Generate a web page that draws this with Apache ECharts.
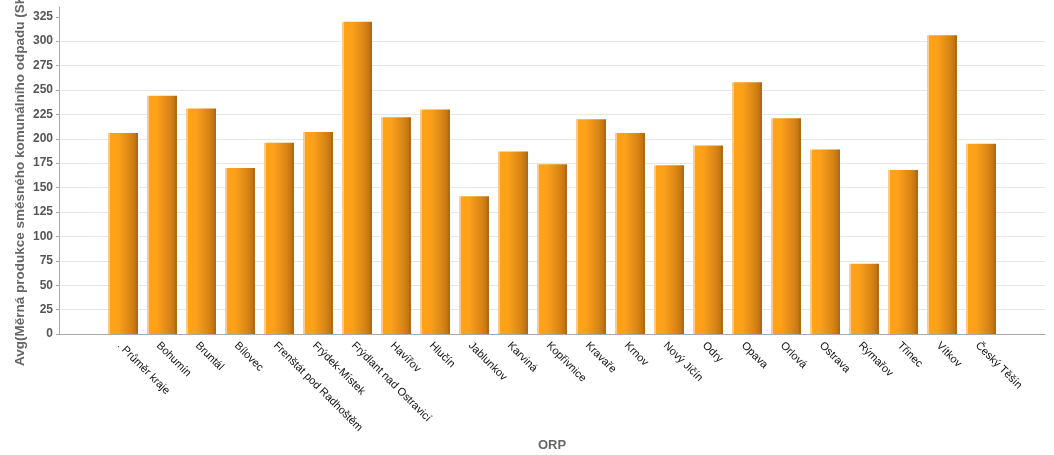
<!DOCTYPE html>
<html>
<head>
<meta charset="utf-8">
<script src="https://cdn.jsdelivr.net/npm/echarts@6/dist/echarts.min.js"></script>
<style>html,body{margin:0;padding:0;background:#fff}#c{width:1054px;height:455px}</style>
</head>
<body>
<div id="c"></div>
<script>
const categories = ['. Průměr kraje','Bohumín','Bruntál','Bílovec','Frenštát pod Radhoštěm','Frýdek-Místek','Frýdlant nad Ostravicí','Havířov','Hlučín','Jablunkov','Karviná','Kopřivnice','Kravaře','Krnov','Nový Jičín','Odry','Opava','Orlová','Ostrava','Rýmařov','Třinec','Vítkov','Český Těšín'];
const values = [206, 244, 231, 170, 196, 207, 320, 222, 230, 141, 187, 174, 220, 206, 173, 193, 258, 221, 189, 72, 168, 306, 195];
const yTicks = [0,25,50,75,100,125,150,175,200,225,250,275,300,325];
const yName = 'Avg(Měrná produkce směsného komunálního odpadu (SKO))';
const xName = 'ORP';

const chart = echarts.init(document.getElementById('c'), null, {renderer: 'canvas'});
const barGradient = new echarts.graphic.LinearGradient(0, 0, 1, 0, [
  {offset: 0, color: '#fcca90'},
  {offset: 0.07, color: '#fcca90'},
  {offset: 0.08, color: '#ffa316'},
  {offset: 0.35, color: '#fba01a'},
  {offset: 0.75, color: '#d88516'},
  {offset: 0.92, color: '#c27412'},
  {offset: 0.93, color: '#b06a10'},
  {offset: 1, color: '#b06a10'}
]);
const font = 'Liberation Sans, Arial, sans-serif';
const option = {
  animation: false,
  textStyle: {fontFamily: font},
  grid: [
    {left: 59, right: 9, top: 7, bottom: 121, containLabel: false, outerBoundsMode: 'none'},
    {left: 103.5, right: 53.5, top: 7, bottom: 121, containLabel: false, outerBoundsMode: 'none'}
  ],
  xAxis: [
    {gridIndex: 0, type: 'value', min: 0, max: 1, position: 'bottom',
      axisLine: {show: true, lineStyle: {color: '#aaaaaa', width: 1}},
      axisTick: {show: false}, axisLabel: {show: false}, splitLine: {show: false}},
    {gridIndex: 1, type: 'category', data: categories, position: 'bottom',
      axisLine: {show: false}, axisTick: {show: false}, splitLine: {show: false},
      axisLabel: {rotate: -45, interval: 0, margin: 6, verticalAlign: 'top', color: '#111', fontSize: 11, fontFamily: font},
      name: xName, nameLocation: 'middle', nameGap: 105, nameMoveOverlap: false,
      nameTextStyle: {color: '#666', fontSize: 13, fontWeight: 'bold', fontFamily: font}},
  ],
  yAxis: [
    {gridIndex: 0, type: 'value', min: 0, max: 335, interval: 25, position: 'left',
      axisLine: {show: true, lineStyle: {color: '#aaaaaa', width: 1}},
      axisTick: {show: true, length: 3, lineStyle: {color: '#aaaaaa'}, customValues: yTicks},
      axisLabel: {margin: 6, color: '#555', fontSize: 12, fontWeight: 'bold', customValues: yTicks, fontFamily: font},
      splitLine: {show: true, showMaxLine: false, showMinLine: false, lineStyle: {color: '#e6e6e6', width: 1}},
      name: yName, nameLocation: 'middle', nameGap: 32, nameRotate: 90, nameMoveOverlap: false,
      nameTextStyle: {color: '#666', fontSize: 13.5, fontWeight: 'bold', fontFamily: font}},
    {gridIndex: 1, type: 'value', min: 0, max: 335, show: false}
  ],
  series: [{
    type: 'bar', xAxisIndex: 1, yAxisIndex: 1, data: values, barWidth: 30,
    itemStyle: {color: barGradient}
  }]
};
chart.setOption(option);
</script>
</body>
</html>
